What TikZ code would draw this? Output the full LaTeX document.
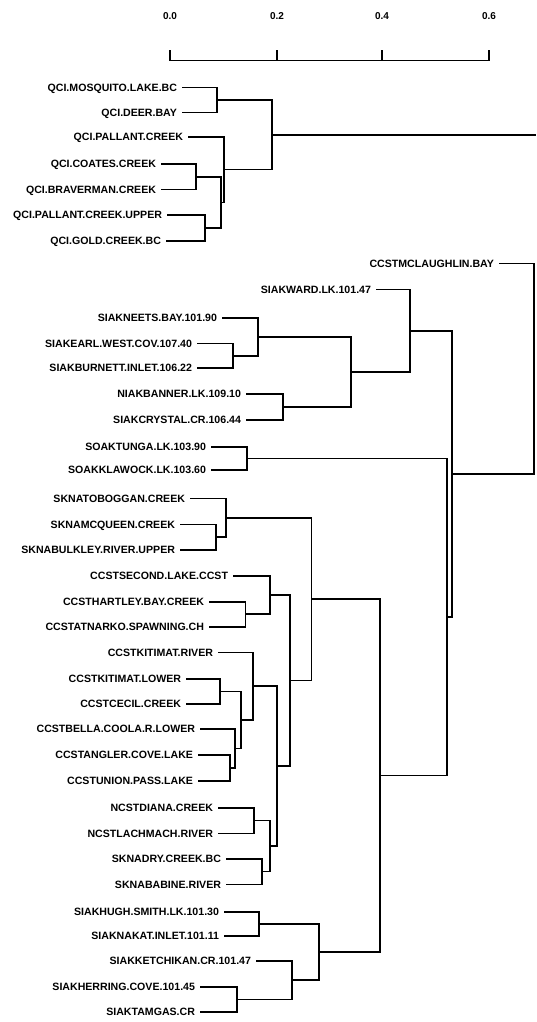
\documentclass[tikz,border=0pt]{standalone}
\usepackage{fontspec}
\setmainfont{Liberation Sans}
\usetikzlibrary{calc}
\tikzset{
  br/.style={line width=1.6pt, black},
  lab/.style={anchor=east, inner sep=0pt, outer xsep=5pt, outer ysep=0pt,
    text height=7.5pt, text depth=0pt,
    font=\bfseries\fontsize{10.6}{12}\selectfont},
  ticklab/.style={inner sep=0pt, font=\bfseries\fontsize{10}{11}\selectfont}
}
\newcommand\dmerge[4]{%
  \path let \p1=($(#3)!0.5!(#4)$) in coordinate (#1) at (#2pt,\y1);
  \draw[br] (#3) -| (#1) |- (#4);
}
\begin{document}
\begin{tikzpicture}[x=1pt,y=-1pt]
\useasboundingbox (0,0) rectangle (536,1022);
\fill[white] (0,0) rectangle (536,1022);
\coordinate (edge) at (536,0);
% axis
\node[ticklab] (t0) at (170,16) {0.0};
\node[ticklab] (t2) at (277,16) {0.2};
\node[ticklab] (t4) at (382,16) {0.4};
\node[ticklab] (t6) at (489,16) {0.6};
\draw[br] (170,50.5) -- (170,60.5) -- (489,60.5) -- (489,50.5);
\draw[br] (277,50.5) -- (277,60.5);
\draw[br] (382,50.5) -- (382,60.5);
% QCI leaves
\node[lab] (q1) at (182,87.5) {QCI.MOSQUITO.LAKE.BC};
\node[lab] (q2) at (182,112.5) {QCI.DEER.BAY};
\node[lab] (q3) at (188,137) {QCI.PALLANT.CREEK};
\node[lab] (q4) at (161,164) {QCI.COATES.CREEK};
\node[lab] (q5) at (161,189.5) {QCI.BRAVERMAN.CREEK};
\node[lab] (q6) at (167,215) {QCI.PALLANT.CREEK.UPPER};
\node[lab] (q7) at (166,241) {QCI.GOLD.CREEK.BC};
\dmerge{qMD}{217}{q1}{q2}
\dmerge{qCB}{196}{q4}{q5}
\dmerge{qUG}{205}{q6}{q7}
\dmerge{qCBUG}{221}{qCB}{qUG}
\dmerge{qP}{224}{q3}{qCBUG}
\dmerge{qR}{272}{qMD}{qP}
\draw[br] (qR) -- (qR -| edge);
% lower leaves
\node[lab] (a1) at (499,263.5) {CCSTMCLAUGHLIN.BAY};
\node[lab] (a2) at (376,289.5) {SIAKWARD.LK.101.47};
\node[lab] (a3) at (222,318) {SIAKNEETS.BAY.101.90};
\node[lab] (a4) at (197,343.5) {SIAKEARL.WEST.COV.107.40};
\node[lab] (a5) at (197,368) {SIAKBURNETT.INLET.106.22};
\node[lab] (a6) at (246,394) {NIAKBANNER.LK.109.10};
\node[lab] (a7) at (246,420) {SIAKCRYSTAL.CR.106.44};
\node[lab] (a8) at (211,446.7) {SOAKTUNGA.LK.103.90};
\node[lab] (a9) at (211,470) {SOAKKLAWOCK.LK.103.60};
\node[lab] (a10) at (190,498.3) {SKNATOBOGGAN.CREEK};
\node[lab] (a11) at (180,524.3) {SKNAMCQUEEN.CREEK};
\node[lab] (a12) at (180,550) {SKNABULKLEY.RIVER.UPPER};
\node[lab] (a13) at (233,575.7) {CCSTSECOND.LAKE.CCST};
\node[lab] (a14) at (209,601.7) {CCSTHARTLEY.BAY.CREEK};
\node[lab] (a15) at (209,626.7) {CCSTATNARKO.SPAWNING.CH};
\node[lab] (a16) at (218,652.3) {CCSTKITIMAT.RIVER};
\node[lab] (a17) at (186,679) {CCSTKITIMAT.LOWER};
\node[lab] (a18) at (186,704) {CCSTCECIL.CREEK};
\node[lab] (a19) at (200,729) {CCSTBELLA.COOLA.R.LOWER};
\node[lab] (a20) at (198,755) {CCSTANGLER.COVE.LAKE};
\node[lab] (a21) at (198,780.7) {CCSTUNION.PASS.LAKE};
\node[lab] (a22) at (218,807.7) {NCSTDIANA.CREEK};
\node[lab] (a23) at (218,833.3) {NCSTLACHMACH.RIVER};
\node[lab] (a24) at (226,859) {SKNADRY.CREEK.BC};
\node[lab] (a25) at (226,884.3) {SKNABABINE.RIVER};
\node[lab] (a26) at (224,911.7) {SIAKHUGH.SMITH.LK.101.30};
\node[lab] (a27) at (224,936) {SIAKNAKAT.INLET.101.11};
\node[lab] (a28) at (256,961) {SIAKKETCHIKAN.CR.101.47};
\node[lab] (a29) at (200,987) {SIAKHERRING.COVE.101.45};
\node[lab] (a30) at (200,1011.7) {SIAKTAMGAS.CR};
% lower merges
\dmerge{aEB}{233}{a4}{a5}
\dmerge{aNEB}{258}{a3}{aEB}
\dmerge{aBC}{283}{a6}{a7}
\dmerge{aNB}{351}{aNEB}{aBC}
\dmerge{aW}{410}{a2}{aNB}
\dmerge{aTK}{247}{a8}{a9}
\dmerge{aMB}{216}{a11}{a12}
\dmerge{aTMB}{226}{a10}{aMB}
\dmerge{aHA}{245.5}{a14}{a15}
\dmerge{aSHA}{270}{a13}{aHA}
\dmerge{aLC}{220}{a17}{a18}
\dmerge{aAU}{230}{a20}{a21}
\dmerge{aBAU}{235}{a19}{aAU}
\dmerge{aLB}{241}{aLC}{aBAU}
\dmerge{aKIT}{253}{a16}{aLB}
\dmerge{aDL}{254}{a22}{a23}
\dmerge{aDB}{262}{a24}{a25}
\dmerge{aNC}{270}{aDL}{aDB}
\dmerge{aKN}{277}{aKIT}{aNC}
\dmerge{aSK}{290}{aSHA}{aKN}
\dmerge{aUP}{311.5}{aTMB}{aSK}
\dmerge{aHN}{259}{a26}{a27}
\dmerge{aHT}{237}{a29}{a30}
\dmerge{aKHT}{292}{a28}{aHT}
\dmerge{aSI}{319}{aHN}{aKHT}
\dmerge{aLOW}{380}{aUP}{aSI}
\dmerge{aTL}{447}{aTK}{aLOW}
\dmerge{aWT}{452}{aW}{aTL}
\dmerge{aTOP}{534}{a1}{aWT}
\end{tikzpicture}
\end{document}
